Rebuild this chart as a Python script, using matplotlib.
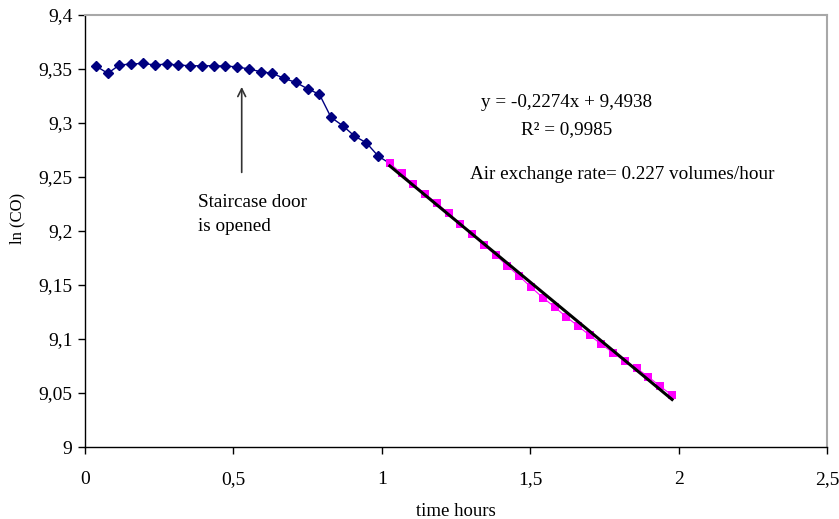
import matplotlib.pyplot as plt
from matplotlib.ticker import FuncFormatter, MultipleLocator

plt.rcParams['font.family'] = ['Liberation Serif', 'DejaVu Serif']

# time (hours) and ln(CO) before / after the door is opened
t_before = [0.037, 0.077, 0.116, 0.156, 0.196, 0.235, 0.275, 0.314, 0.354, 0.394,
            0.433, 0.473, 0.512, 0.552, 0.592, 0.631, 0.671, 0.710, 0.750, 0.790,
            0.829, 0.869, 0.908, 0.948, 0.988]
lnco_before = [9.3527, 9.3460, 9.3537, 9.3546, 9.3552, 9.3537, 9.3546, 9.3537, 9.3530, 9.3530,
               9.3530, 9.3527, 9.3520, 9.3500, 9.3475, 9.3460, 9.3413, 9.3376, 9.3317, 9.3265,
               9.3052, 9.2974, 9.2879, 9.2817, 9.2693]

t_decay = [1.027, 1.067, 1.106, 1.146, 1.186, 1.225, 1.265, 1.304, 1.344, 1.384,
           1.423, 1.463, 1.502, 1.542, 1.582, 1.621, 1.661, 1.700, 1.740, 1.780,
           1.819, 1.859, 1.898, 1.938, 1.978]
lnco_decay = [9.2626, 9.2533, 9.2431, 9.2341, 9.2255, 9.2163, 9.2063, 9.1971, 9.1869, 9.1776,
              9.1677, 9.1582, 9.1482, 9.1384, 9.1297, 9.1206, 9.1121, 9.1035, 9.0951, 9.0871,
              9.0794, 9.0729, 9.0650, 9.0562, 9.0479]

slope = -0.2274
intercept = 9.4938

fig = plt.figure(figsize=(8.39, 5.19), dpi=100)
ax = fig.add_axes([0.1013, 0.1387, 0.8844, 0.8324])

# blue series runs up to the first decay point
ax.plot(t_before + t_decay[:1], lnco_before + lnco_decay[:1], color='#000080', lw=1.0,
        marker='D', markersize=5.3, markevery=list(range(len(t_before))), zorder=3)
ax.plot(t_decay, lnco_decay, color='#FF00FF', lw=0.8, marker='s', markersize=6,
        markeredgewidth=0, zorder=3)

# linear trend line
fit_x = [t_decay[0], t_decay[-1]]
fit_y = [slope * x + intercept for x in fit_x]
ax.plot(fit_x, fit_y, color='black', lw=2.2, zorder=4)

ax.set_xlim(0, 2.5)
ax.set_ylim(9.0, 9.4)
ax.xaxis.set_major_locator(MultipleLocator(0.5))
ax.yaxis.set_major_locator(MultipleLocator(0.05))
fmt = FuncFormatter(lambda v, p: '{:g}'.format(round(v, 3)).replace('.', ','))
ax.xaxis.set_major_formatter(fmt)
ax.yaxis.set_major_formatter(fmt)
ax.tick_params(direction='out', length=5, width=1, labelsize=14, pad=12)
ax.tick_params(axis='y', pad=4)

for s in ['left', 'bottom']:
    ax.spines[s].set_color('black')
    ax.spines[s].set_linewidth(1.0)
for s in ['top', 'right']:
    ax.spines[s].set_color('#A8A8A8')
    ax.spines[s].set_linewidth(1.5)

ax.set_xlabel('time hours', fontsize=13.5, labelpad=11)
ax.set_ylabel('ln (CO)', fontsize=12)
ax.yaxis.set_label_coords(-0.08, 0.53)

ax.annotate('', xy=(0.528, 9.336), xytext=(0.528, 9.2517),
            arrowprops=dict(arrowstyle='->', color='#333333', lw=1.2, mutation_scale=14))
ax.text(0.381, 9.234, 'Staircase door\nis opened', fontsize=13.8, ha='left', va='top',
        linespacing=1.5)

ax.text(1.623, 9.319, 'y = -0,2274x + 9,4938', fontsize=13.8, ha='center', va='center')
ax.text(1.623, 9.2935, 'R² = 0,9985', fontsize=13.8, ha='center', va='center')
ax.text(1.809, 9.252, 'Air exchange rate= 0.227 volumes/hour', fontsize=13.8,
        ha='center', va='center')

fig.savefig('out.png', dpi=100)
